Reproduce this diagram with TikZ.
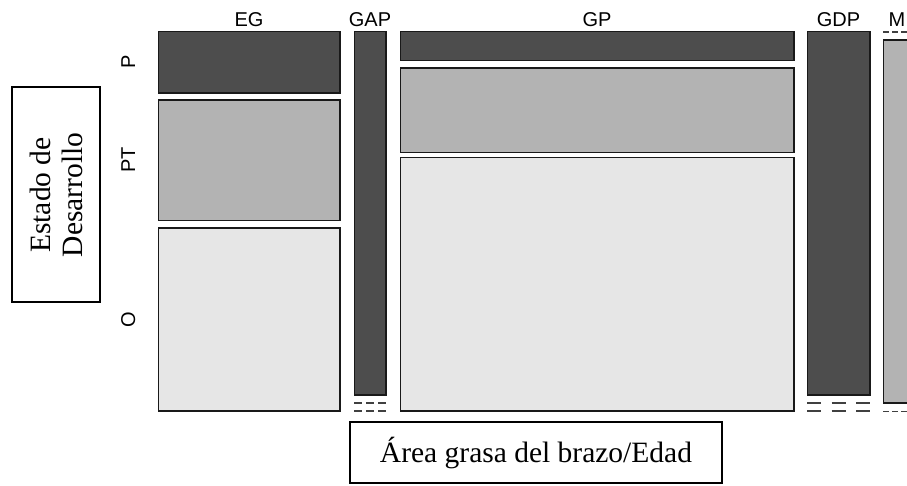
\documentclass[tikz,border=0pt]{standalone}
\usepackage{fontspec}
\setmainfont{Liberation Serif}
\newfontfamily\labfont{Liberation Sans}
\definecolor{dk}{HTML}{4D4D4D}
\definecolor{md}{HTML}{B3B3B3}
\definecolor{lt}{HTML}{E6E6E6}
\begin{document}
\begin{tikzpicture}[x=1pt,y=-1pt,
  cell/.style={draw=black!90,line width=1.7pt},
  zero/.style={draw=black!75,line width=1.8pt},
  lab/.style={font=\labfont\fontsize{20}{24}\selectfont,anchor=base,inner sep=0pt},
  frame/.style={draw=black,line width=1.6pt},
  bigtext/.style={font=\fontsize{29.5}{32}\selectfont,align=center,inner sep=0pt}]
\useasboundingbox (0,0) rectangle (907,485);
\begin{scope}
\clip (0,0) rectangle (907,485);
% EG column
\draw[cell,fill=dk] (158.5,31.5) rectangle (340,93);
\draw[cell,fill=md] (158.5,100) rectangle (340,220.5);
\draw[cell,fill=lt] (158.5,228) rectangle (340,411);
% GAP column
\draw[cell,fill=dk] (354.5,31.5) rectangle (386,395);
\draw[zero,dash pattern=on 8pt off 4pt] (354,402.7) -- (386.5,402.7);
\draw[zero,dash pattern=on 8pt off 4pt] (354,410.7) -- (386.5,410.7);
% GP column
\draw[cell,fill=dk] (400.5,31.5) rectangle (794,60.5);
\draw[cell,fill=md] (400.5,68) rectangle (794,152.5);
\draw[cell,fill=lt] (400.5,157.5) rectangle (794,411);
% GDP column
\draw[cell,fill=dk] (807.5,31.5) rectangle (870,395);
\draw[zero,dash pattern=on 14pt off 10.5pt] (807,402.7) -- (870.5,402.7);
\draw[zero,dash pattern=on 14pt off 10.5pt] (807,410.7) -- (870.5,410.7);
% M column
\draw[zero,dash pattern=on 6pt off 3pt] (883,32) -- (912,32);
\draw[cell,fill=md] (883.5,40) rectangle (930,403);
\draw[zero,dash pattern=on 6pt off 3pt] (883,411.5) -- (912,411.5);
% column labels
\node[lab] (lEG) at (249,26.5) {EG};
\node[lab] (lGAP) at (370,26.5) {GAP};
\node[lab] (lGP) at (597,26.5) {GP};
\node[lab] (lGDP) at (838.5,26.5) {GDP};
\node[lab,anchor=base west] (lM) at (888.5,26.5) {M};
% row labels
\node[lab,rotate=90] (lP) at (135,62) {P};
\node[lab,rotate=90] (lPT) at (135,160) {PT};
\node[lab,rotate=90] (lO) at (135,320) {O};
% Estado box
\draw[frame] (11.7,86.7) rectangle (100,301.7);
\node[bigtext,rotate=90] (estado) at (56,195) {Estado de\\Desarrollo};
% bottom box
\draw[frame] (350,422) rectangle (722,483);
\node[bigtext] (area) at (536,453) {Área grasa del brazo/Edad};
\end{scope}
\end{tikzpicture}
\end{document}
